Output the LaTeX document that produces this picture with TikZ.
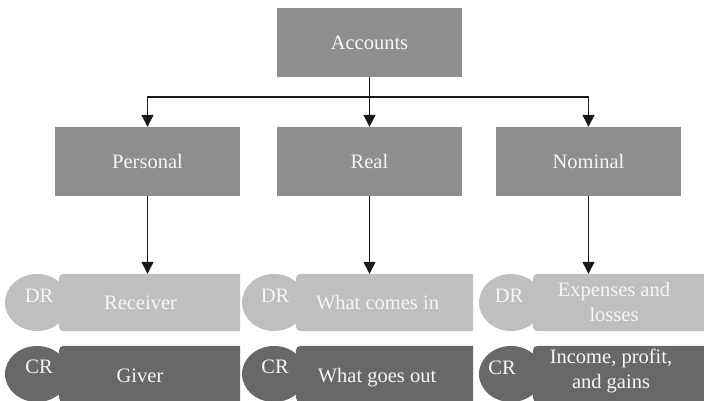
\documentclass[tikz,border=0pt]{standalone}
\usepackage{fontspec}
\setmainfont{Liberation Serif}
\usetikzlibrary{arrows.meta,shapes.geometric}

\definecolor{boxgray}{RGB}{142,142,145}
\definecolor{drgray}{RGB}{190,191,193}
\definecolor{crgray}{RGB}{104,104,106}
\definecolor{inkwhite}{RGB}{246,246,246}
\definecolor{linek}{RGB}{25,25,25}

% filled band behind a text cell: rounded on the left, square on the right
\newcommand\bandfill[2]{%
  \fill[#2] (#1.north east) -- ([xshift=11pt]#1.north west)
    .. controls (#1.north west) .. ([yshift=-11pt]#1.north west)
    -- ([yshift=11pt]#1.south west)
    .. controls (#1.south west) .. ([xshift=11pt]#1.south west)
    -- (#1.south east) -- cycle;}

\begin{document}
\begin{tikzpicture}[x=1pt,y=-1pt,
  catbox/.style={rectangle, fill=boxgray, minimum width=185pt, minimum height=69pt,
    inner sep=0pt, text=inkwhite, font=\fontsize{20.5}{24}\selectfont},
  band/.style={rectangle, inner sep=0pt, minimum height=57pt},
  tag/.style={ellipse, inner sep=0pt, minimum width=64pt, minimum height=57pt},
  lbl/.style={inner sep=0pt, text=inkwhite, font=\fontsize{20.5}{25}\selectfont, align=center},
  arr/.style={draw=linek, line width=1.3pt, -{Triangle[width=12pt,length=12pt]}}]
\useasboundingbox (0,0) rectangle (704,401);

% account categories
\node[catbox] (acc)  at (369.5,42.5)  {Accounts};
\node[catbox] (pers) at (147.5,161.5) {Personal};
\node[catbox] (real) at (369.5,161.5) {Real};
\node[catbox] (nom)  at (588.5,161.5) {Nominal};

% debit and credit bands
\node[band, minimum width=181pt] (prec) at (149.5,302.5) {};
\node[band, minimum width=177pt] (rin)  at (384.5,302.5) {};
\node[band, minimum width=179pt] (nexp) at (622.5,302.5) {};
\node[band, minimum width=181pt, minimum height=56pt] (pgiv) at (149.5,374) {};
\node[band, minimum width=177pt, minimum height=56pt] (rout) at (384.5,374) {};
\node[band, minimum width=179pt, minimum height=56pt] (ninc) at (622.5,374) {};
\bandfill{prec}{drgray}
\bandfill{rin}{drgray}
\bandfill{nexp}{drgray}
\bandfill{pgiv}{crgray}
\bandfill{rout}{crgray}
\bandfill{ninc}{crgray}

\node[tag, fill=drgray] (pdr) at (37,302.5) {};
\node[tag, fill=drgray] (rdr) at (274,302.5) {};
\node[tag, fill=drgray] (ndr) at (511,302.5) {};
\node[tag, fill=crgray, minimum height=56pt] (pcr) at (37,374) {};
\node[tag, fill=crgray, minimum height=56pt] (rcr) at (274,374) {};
\node[tag, fill=crgray, minimum height=56pt] (ncr) at (511,374) {};

% band texts
\node[lbl, anchor=base] (pdrt) at (39,302)  {DR};
\node[lbl, anchor=base] (rdrt) at (275,302) {DR};
\node[lbl, anchor=base] (ndrt) at (509,302) {DR};
\node[lbl, anchor=base] (pcrt) at (39,373)  {CR};
\node[lbl, anchor=base] (rcrt) at (275,373) {CR};
\node[lbl, anchor=base] (ncrt) at (502,374) {CR};
\node[lbl, anchor=base] (prect) at (140.5,309) {Receiver};
\node[lbl, anchor=base] (pgivt) at (140,382)   {Giver};
\node[lbl, anchor=base] (rint)  at (377.5,309) {What comes in};
\node[lbl, anchor=base] (routt) at (377,382)   {What goes out};
\node[lbl] (nexpt) at (614,302)   {Expenses and\\losses};
\node[lbl] (ninct) at (611,370.5) {Income, profit,\\and gains};

% connectors
\coordinate (hub) at (369.5,97);
\draw[arr] (acc) -- (real);
\draw[arr] (hub) -| (pers);
\draw[arr] (hub) -| (nom);
\draw[arr] (pers) -- (pers |- prec.north);
\draw[arr] (real) -- (real |- rin.north);
\draw[arr] (nom)  -- (nom |- nexp.north);
\end{tikzpicture}
\end{document}
